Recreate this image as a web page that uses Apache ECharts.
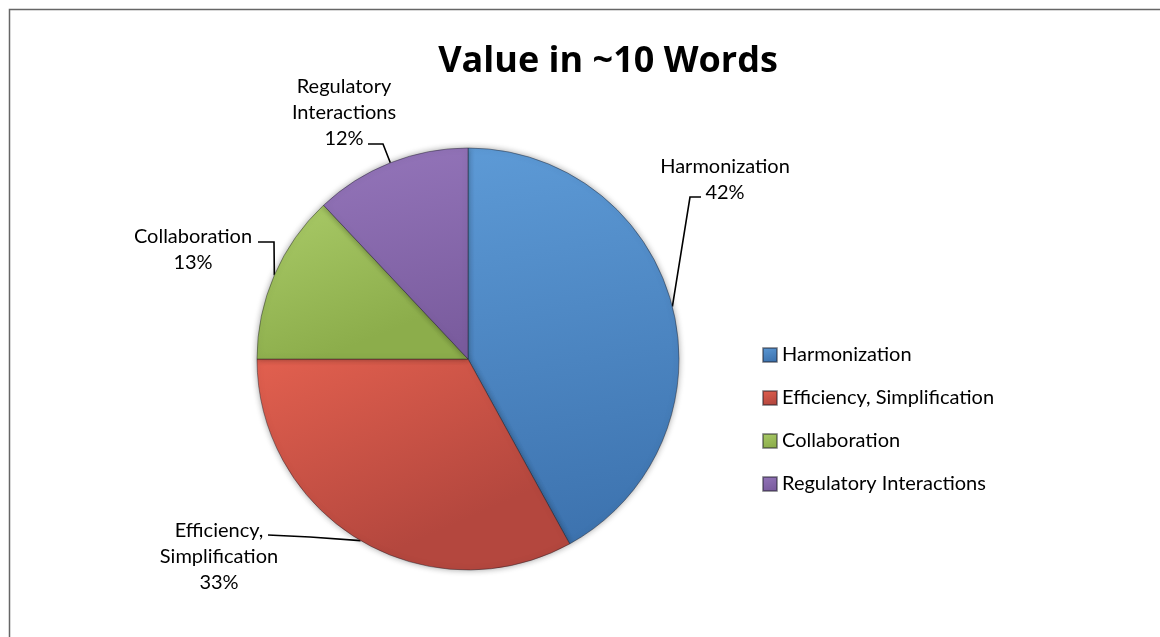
<!DOCTYPE html>
<html>
<head>
<meta charset="utf-8">
<script src="https://cdn.jsdelivr.net/npm/echarts@6/dist/echarts.min.js"></script>
<style>
  html, body { margin: 0; padding: 0; background: #fff; }
  #chart { width: 1160px; height: 637px; }
</style>
</head>
<body>
<div id="chart"></div>
<script>
// ---- data ----
const categories = ['Harmonization', 'Efficiency, Simplification', 'Collaboration', 'Regulatory Interactions'];
const labelNames = ['Harmonization', 'Efficiency,\nSimplification', 'Collaboration', 'Regulatory\nInteractions'];
const values = [42, 33, 13, 12];
const titleText = 'Value in ~10 Words';

// ---- styles ----
const gradients = [
  ['#5D9AD6', '#3D73AF'],
  ['#E2604F', '#B4473E'],
  ['#AACB68', '#8CAD4B'],
  ['#9475BA', '#7A5C9E']
];
// label block centres and leader elbows (layout only)
const labelLayoutSpec = [
  { x: 725, y: 180, elbow: [690, 197], end: [701, 197] },
  { x: 219, y: 557, elbow: [310, 537], end: [268, 535] },
  { x: 193, y: 250, elbow: [274, 242], end: [258, 242] },
  { x: 344, y: 113, elbow: [383, 144], end: [368, 144] }
];

const chart = echarts.init(document.getElementById('chart'), null, { renderer: 'canvas' });
const FONT = 'Lato';

const seriesData = categories.map((c, i) => ({
  name: c,
  value: values[i],
  label: { formatter: labelNames[i] + '\n{d}%' },
  itemStyle: {
    color: new echarts.graphic.LinearGradient(0, 0, 0.3, 1, [
      { offset: 0, color: gradients[i][0] },
      { offset: 1, color: gradients[i][1] }
    ])
  }
}));

chart.setOption({
  backgroundColor: '#fff',
  animation: false,
  title: {
    text: titleText,
    left: 603,
    top: 39,
    textAlign: 'center',
    textStyle: { fontFamily: 'Open Sans', fontWeight: 'bold', fontSize: 36, color: '#000' }
  },
  legend: {
    orient: 'vertical',
    left: 757,
    top: 340,
    itemWidth: 14,
    itemHeight: 14,
    itemGap: 23,
    icon: 'rect',
    data: categories,
    textStyle: { fontFamily: FONT, fontSize: 20, color: '#000' }
  },
  graphic: [{
    type: 'rect',
    shape: { x: 9.5, y: 9.5, width: 1300, height: 800 },
    style: { fill: null, stroke: '#666', lineWidth: 1.5 },
    silent: true,
    z: -1
  }],
  series: [{
    type: 'pie',
    center: [468, 359],
    radius: 211,
    startAngle: 90,
    clockwise: true,
    data: seriesData,
    itemStyle: {
      borderColor: 'rgba(30,30,40,0.45)',
      borderWidth: 1,
      shadowBlur: 6,
      shadowColor: 'rgba(0,0,0,0.35)'
    },
    label: {
      show: true,
      position: 'outside',
      fontFamily: FONT,
      fontSize: 20,
      lineHeight: 26,
      color: '#000',
      align: 'center'
    },
    labelLine: {
      show: true,
      length: 20,
      length2: 10,
      lineStyle: { color: '#000', width: 1.6 }
    },
    labelLayout: function (params) {
      const s = labelLayoutSpec[params.dataIndex];
      const start = params.labelLinePoints ? params.labelLinePoints[0] : s.elbow;
      return {
        x: s.x,
        y: s.y,
        align: 'center',
        verticalAlign: 'middle',
        labelLinePoints: [start, s.elbow, s.end]
      };
    }
  }]
});
</script>
</body>
</html>
